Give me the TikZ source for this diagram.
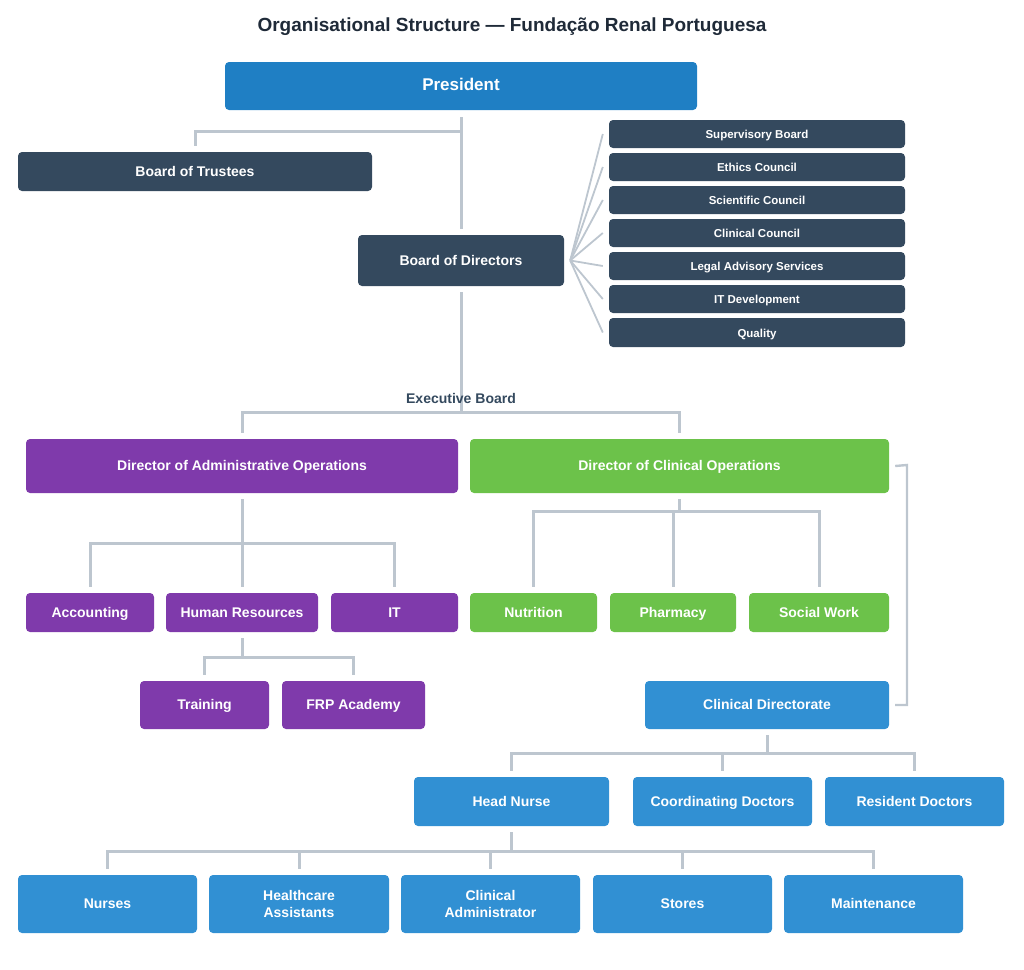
\documentclass[tikz,border=0pt]{standalone}
\usepackage{fontspec}
\setmainfont{Liberation Sans}
\usetikzlibrary{calc}
\definecolor{cdark}{HTML}{34495E}
\definecolor{cpres}{HTML}{1F7FC4}
\definecolor{cpurp}{HTML}{7F3AAB}
\definecolor{cgreen}{HTML}{6CC24A}
\definecolor{cblue}{HTML}{3190D3}
\definecolor{cline}{HTML}{BDC6CF}
\definecolor{ctitle}{HTML}{1F2A38}
\tikzset{
  orgbox/.style={rounded corners=4pt, inner sep=0pt, text=white, font=\bfseries\fontsize{14}{17}\selectfont, align=center, text height=0.92em, text depth=0pt},
  twobox/.style={rounded corners=4pt, inner sep=0pt, text=white, font=\bfseries\fontsize{14}{17}\selectfont, align=center},
  smallbox/.style={orgbox, font=\bfseries\fontsize{11.5}{14}\selectfont},
  link/.style={draw=cline, line width=3pt},
}
% name, x1, y1, x2, y2, colour, style, text
\newcommand{\obox}[8]{%
  \node[#7, fill=#6, minimum width={(#4-#2)*1pt}, minimum height={(#5-#3)*1pt}] (#1) at ({(#2+#4)/2},{(#3+#5)/2}) {#8};}
\begin{document}
\begin{tikzpicture}[x=1pt,y=-1pt]
\useasboundingbox (0,0) rectangle (1024,969);
\node[font=\bfseries\fontsize{19}{22}\selectfont, text=ctitle] (title) at (512,27) {Organisational Structure — Fundação Renal Portuguesa};

\obox{pres}{225}{62}{697}{110}{cpres}{orgbox, font=\bfseries\fontsize{17}{20}\selectfont}{President}
\obox{bot}{18}{152}{372}{191}{cdark}{orgbox}{Board of Trustees}
\obox{bod}{358}{235}{564}{286}{cdark}{orgbox}{Board of Directors}

\obox{r1}{609}{120}{905}{148}{cdark}{smallbox}{Supervisory Board}
\obox{r2}{609}{153}{905}{181}{cdark}{smallbox}{Ethics Council}
\obox{r3}{609}{186}{905}{214}{cdark}{smallbox}{Scientific Council}
\obox{r4}{609}{219}{905}{247}{cdark}{smallbox}{Clinical Council}
\obox{r5}{609}{252}{905}{280}{cdark}{smallbox}{Legal Advisory Services}
\obox{r6}{609}{285}{905}{313}{cdark}{smallbox}{IT Development}
\obox{r7}{609}{318}{905}{347}{cdark}{smallbox}{Quality}

\obox{dao}{26}{439}{458}{493}{cpurp}{orgbox}{Director of Administrative Operations}
\obox{dco}{470}{439}{889}{493}{cgreen}{orgbox}{Director of Clinical Operations}

\obox{acc}{26}{593}{154}{632}{cpurp}{orgbox}{Accounting}
\obox{hr}{166}{593}{318}{632}{cpurp}{orgbox}{Human Resources}
\obox{it}{331}{593}{458}{632}{cpurp}{orgbox}{IT}
\obox{trn}{140}{681}{269}{729}{cpurp}{orgbox}{Training}
\obox{frp}{282}{681}{425}{729}{cpurp}{orgbox}{FRP Academy}

\obox{nut}{470}{593}{597}{632}{cgreen}{orgbox}{Nutrition}
\obox{pha}{610}{593}{736}{632}{cgreen}{orgbox}{Pharmacy}
\obox{sw}{749}{593}{889}{632}{cgreen}{orgbox}{Social Work}

\obox{cd}{645}{681}{889}{729}{cblue}{orgbox}{Clinical Directorate}
\obox{hn}{414}{777}{609}{826}{cblue}{orgbox}{Head Nurse}
\obox{cdoc}{633}{777}{812}{826}{cblue}{orgbox}{Coordinating Doctors}
\obox{rd}{825}{777}{1004}{826}{cblue}{orgbox}{Resident Doctors}

\obox{nur}{18}{875}{197}{933}{cblue}{orgbox}{Nurses}
\obox{hca}{209}{875}{389}{933}{cblue}{twobox}{Healthcare\\Assistants}
\obox{cad}{401}{875}{580}{933}{cblue}{twobox}{Clinical\\Administrator}
\obox{sto}{593}{875}{772}{933}{cblue}{orgbox}{Stores}
\obox{mnt}{784}{875}{963}{933}{cblue}{orgbox}{Maintenance}

% junction coordinates
\coordinate (j1) at (461,131);
\coordinate (j2) at (461,412);
\coordinate (j3) at (242,543);
\coordinate (j4) at (242,657);
\coordinate (j5) at (679.5,511);
\coordinate (j6) at (767,753);
\coordinate (j7) at (511.5,851);

% President -> Board of Directors, Trustees
\draw[link] ([yshift=-7]pres.south) -- ([yshift=6]bod.north);
\draw[link] ([yshift=6]bot.north) |- (j1);

% fan to advisory bodies
\foreach \r in {r1,r2,r3,r4,r5,r6,r7}
  \draw[draw=cline, line width=1.8pt] ([xshift=6]bod.east) -- ([xshift=-6]\r.west);

% Board of Directors -> Executive Board
\draw[link] ([yshift=-6]bod.south) -- (j2);
\node[font=\bfseries\fontsize{14}{17}\selectfont, text=cdark] (exb) at (461,398) {Executive Board};
\draw[link] ([yshift=6]dao.north) |- (j2) -| ([yshift=6]dco.north);

% Administrative
\draw[link] ([yshift=-6]dao.south) -- (j3);
\draw[link] ([yshift=6]acc.north) |- (j3) -| ([yshift=6]it.north);
\draw[link] (j3) -- ([yshift=6]hr.north);
\draw[link] ([yshift=-6]hr.south) -- (j4);
\draw[link] ([yshift=6]trn.north) |- (j4) -| ([yshift=6]frp.north);

% Clinical
\draw[link] ([yshift=-6]dco.south) -- (j5);
\draw[link] ([yshift=6]nut.north) |- (j5) -| ([yshift=6]sw.north);
\draw[link] (pha.north |- j5) -- ([yshift=6]pha.north);

% bracket Director of Clinical Operations -> Clinical Directorate
\coordinate (b1) at (907,465);
\draw[draw=cline, line width=2.4pt] ([xshift=6]dco.east) -- (b1) |- ([xshift=6]cd.east);

% Clinical Directorate
\draw[link] ([yshift=-6]cd.south) -- (j6);
\draw[link] ([yshift=6]hn.north) |- (j6) -| ([yshift=6]rd.north);
\draw[link] (cdoc.north |- j6) -- ([yshift=6]cdoc.north);

% Head Nurse
\draw[link] ([yshift=-6]hn.south) -- (j7);
\draw[link] ([yshift=6]nur.north) |- (j7) -| ([yshift=6]mnt.north);
\draw[link] (hca.north |- j7) -- ([yshift=6]hca.north);
\draw[link] (cad.north |- j7) -- ([yshift=6]cad.north);
\draw[link] (sto.north |- j7) -- ([yshift=6]sto.north);
\end{tikzpicture}
\end{document}
